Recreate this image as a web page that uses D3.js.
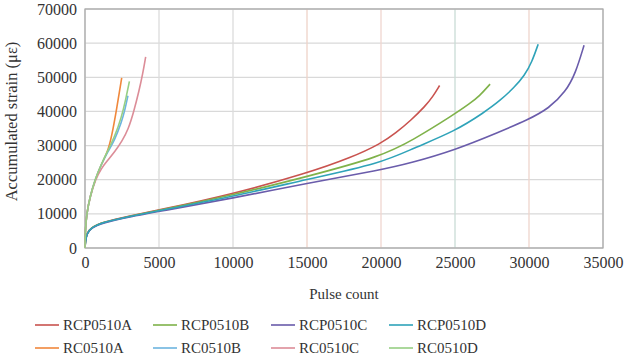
<!DOCTYPE html>
<html>
<head>
<meta charset="utf-8">
<script src="https://cdn.jsdelivr.net/npm/d3@7"></script>
<style>
  body { margin: 0; background: #fff; }
  text { font-family: "Liberation Serif", "Times New Roman", serif; fill: #333; }
</style>
</head>
<body>
<div id="chart"></div>
<script>
// series names (legend order)
var seriesNames = ["RCP0510A", "RCP0510B", "RCP0510C", "RCP0510D",
                   "RC0510A", "RC0510B", "RC0510C", "RC0510D"];
var seriesColors = ["#c9534f", "#7fb24a", "#6a5cab", "#2fa3b9",
                    "#f0883c", "#6db4df", "#dc8d98", "#97cf84"];

// pulse count / accumulated strain
var rcp0510A_x = [0, 30, 120, 400, 1200, 3000, 5000, 10000, 15000, 18000, 20000, 21000, 22000, 23000, 23500, 23960];
var rcp0510A_y = [0, 2000, 4300, 6000, 7600, 9400, 11100, 15800, 21900, 26500, 30600, 33700, 37300, 41600, 44300, 47600];

var rcp0510B_x = [0, 30, 120, 400, 1200, 3000, 5000, 10000, 15000, 20000, 22160, 24900, 26000, 26650, 27370];
var rcp0510B_y = [0, 1950, 4250, 5950, 7550, 9350, 11000, 15500, 20900, 26800, 31600, 39000, 42300, 44500, 48000];

var rcp0510C_x = [0, 30, 120, 400, 1200, 3000, 5000, 10000, 15000, 20000, 22000, 25000, 28000, 29900, 31360, 32480, 33150, 33720];
var rcp0510C_y = [0, 1850, 4150, 5850, 7400, 9150, 10700, 14600, 18950, 22900, 24900, 28700, 34000, 37500, 40900, 45800, 51200, 59400];

var rcp0510D_x = [0, 30, 120, 400, 1200, 3000, 5000, 10000, 15000, 20000, 22160, 25000, 27000, 28000, 29000, 29700, 30200, 30620];
var rcp0510D_y = [0, 1900, 4200, 5900, 7500, 9250, 10900, 15100, 20100, 24800, 29200, 34200, 39800, 43000, 47000, 50500, 54500, 59700];

var rc0510A_x = [0, 20, 110, 340, 675, 1100, 1500, 1800, 2150, 2480];
var rc0510A_y = [0, 5000, 10000, 15000, 20000, 24500, 27800, 32500, 41000, 49800];

var rc0510B_x = [0, 20, 110, 340, 675, 1100, 1500, 2000, 2480, 2700, 2900];
var rc0510B_y = [0, 5000, 10000, 15000, 20000, 24500, 27900, 31500, 37000, 40500, 44600];

var rc0510C_x = [0, 20, 110, 340, 700, 1100, 1500, 2030, 2500, 2930, 3300, 3650, 3900, 4100];
var rc0510C_y = [0, 5000, 10000, 15000, 20000, 23300, 25500, 28300, 31300, 34800, 40000, 46000, 51000, 56000];

var rc0510D_x = [0, 20, 110, 340, 675, 1100, 1500, 2000, 2480, 2750, 3000];
var rc0510D_y = [0, 5000, 10000, 15000, 20000, 24500, 28200, 32500, 38500, 43500, 48800];

var xTicks = [0, 5000, 10000, 15000, 20000, 25000, 30000, 35000];
var yTicks = [0, 10000, 20000, 30000, 40000, 50000, 60000, 70000];

var allX = [rcp0510A_x, rcp0510B_x, rcp0510C_x, rcp0510D_x, rc0510A_x, rc0510B_x, rc0510C_x, rc0510D_x];
var allY = [rcp0510A_y, rcp0510B_y, rcp0510C_y, rcp0510D_y, rc0510A_y, rc0510B_y, rc0510C_y, rc0510D_y];

var series = seriesNames.map(function (name, i) {
  return { name: name, color: seriesColors[i],
           values: allX[i].map(function (x, j) { return { x: x, y: allY[i][j] }; }) };
});

// dimensions
var W = 629, H = 357;
var margin = {top: 9, right: 26, bottom: 109, left: 85},
    width = W - margin.left - margin.right,
    height = H - margin.top - margin.bottom;

var svg = d3.select("#chart")
  .append("svg")
    .attr("width", W)
    .attr("height", H)
  .append("g")
    .attr("transform", "translate(" + margin.left + "," + margin.top + ")");

var x = d3.scaleLinear().domain([0, 35000]).range([0, width]);
var y = d3.scaleLinear().domain([0, 70000]).range([height, 0]);

// grid (the vertical ones are faintly tinted in the original)
var vGridColor = ["#d8d8d8", "#dcdcdc", "#dcdcdc", "#efd3c8", "#f0d6d0", "#c9dcd6", "#efd5cc", "#d8d8d8"];
svg.append("g").selectAll("line.h")
  .data(yTicks).enter().append("line")
    .attr("x1", 0).attr("x2", width)
    .attr("y1", d => y(d)).attr("y2", d => y(d))
    .style("stroke", "#d9d9d9").style("stroke-width", 1.3);
svg.append("g").selectAll("line.v")
  .data(xTicks).enter().append("line")
    .attr("x1", d => x(d)).attr("x2", d => x(d))
    .attr("y1", 0).attr("y2", height)
    .style("stroke", (d, i) => vGridColor[i]).style("stroke-width", 1.3);

// frame
svg.append("rect")
  .attr("width", width).attr("height", height)
  .style("fill", "none").style("stroke", "#a8a8a8").style("stroke-width", 1.2);

// axes
var xAxis = svg.append("g")
  .attr("transform", "translate(0," + height + ")")
  .call(d3.axisBottom(x).tickValues(xTicks).tickSize(0).tickPadding(9).tickFormat(d3.format("d")));
var yAxis = svg.append("g")
  .call(d3.axisLeft(y).tickValues(yTicks).tickSize(0).tickPadding(8).tickFormat(d3.format("d")));
[xAxis, yAxis].forEach(function (a) {
  a.select(".domain").remove();
  a.selectAll("text").style("font-size", "16px").style("font-family", "Liberation Serif").attr("fill", "#333");
});

// lines
var line = d3.line()
  .x(d => x(d.x))
  .y(d => y(d.y))
  .curve(d3.curveBasis);

svg.selectAll(".series")
  .data(series)
  .enter().append("path")
    .attr("class", "series")
    .attr("d", d => line(d.values))
    .style("fill", "none")
    .style("stroke", d => d.color)
    .style("stroke-width", 1.6);

// axis titles
svg.append("text")
  .attr("x", width / 2)
  .attr("y", height + 51)
  .attr("text-anchor", "middle")
  .style("font-size", "15px")
  .text("Pulse count");

svg.append("text")
  .attr("transform", "rotate(-90)")
  .attr("x", -height / 2 + 7)
  .attr("y", -margin.left + 17)
  .attr("text-anchor", "middle")
  .style("font-size", "16.5px")
  .text("Accumulated strain (\u03bc\u03b5)");

// legend
var legend = d3.select("svg").selectAll(".legend")
  .data(series)
  .enter().append("g")
    .attr("class", "legend")
    .attr("transform", (d, i) => "translate(" + (35 + (i % 4) * 118) + "," + (325 + Math.floor(i / 4) * 23) + ")");

legend.append("line")
  .attr("x1", 0).attr("x2", 24)
  .attr("y1", 0).attr("y2", 0)
  .style("stroke", d => d.color)
  .style("stroke-width", 1.6);

legend.append("text")
  .attr("x", 28)
  .attr("y", 0)
  .attr("dy", "0.35em")
  .style("font-size", "15px")
  .text(d => d.name);
</script>
</body>
</html>
